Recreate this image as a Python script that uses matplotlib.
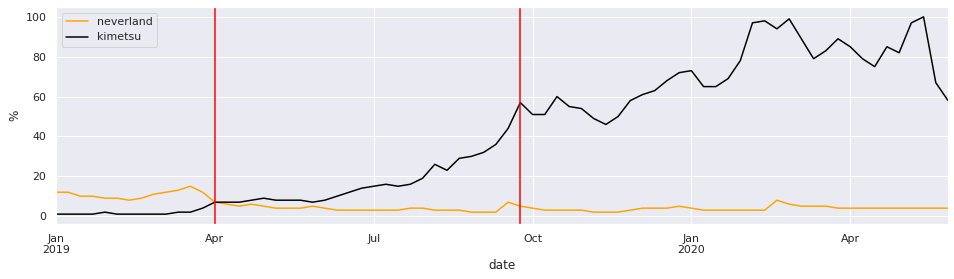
import matplotlib
matplotlib.use("Agg")
import matplotlib.pyplot as plt
import seaborn as sns
import pandas as pd

dates = pd.date_range("2019-01-06", periods=74, freq="W-SUN")

neverland = [12, 12, 10, 10, 9, 9, 8, 9, 11, 12, 13, 15, 12, 7, 6, 5, 6, 5, 4, 4,
             4, 5, 4, 3, 3, 3, 3, 3, 3, 4, 4, 3, 3, 3, 2, 2, 2, 7, 5, 4,
             3, 3, 3, 3, 2, 2, 2, 3, 4, 4, 4, 5, 4, 3, 3, 3, 3, 3, 3, 8,
             6, 5, 5, 5, 4, 4, 4, 4, 4, 4, 4, 4, 4, 4]
kimetsu = [1, 1, 1, 1, 2, 1, 1, 1, 1, 1, 2, 2, 4, 7, 7, 7, 8, 9, 8, 8,
           8, 7, 8, 10, 12, 14, 15, 16, 15, 16, 19, 26, 23, 29, 30, 32, 36, 44, 57, 51,
           51, 60, 55, 54, 49, 46, 50, 58, 61, 63, 68, 72, 73, 65, 65, 69, 78, 97, 98, 94,
           99, 89, 79, 83, 89, 85, 79, 75, 85, 82, 97, 100, 67, 58]

tick_dates = pd.to_datetime(["2019-01-06", "2019-04-07", "2019-07-07",
                             "2019-10-06", "2020-01-05", "2020-04-05"])
tick_labels = ["Jan\n2019", "Apr", "Jul", "Oct", "Jan\n2020", "Apr"]
event_dates = pd.to_datetime(["2019-04-07", "2019-09-29"])

sns.set_theme(style="darkgrid")
fig = plt.figure(figsize=(954 / 72, 279 / 72), dpi=72)
ax = fig.add_axes([56 / 954, 1 - 224 / 279, (948 - 56) / 954, (224 - 7) / 279])

ax.plot(dates, neverland, color="orange", label="neverland", lw=1.5)
ax.plot(dates, kimetsu, color="black", label="kimetsu", lw=1.5)
for d in event_dates:
    ax.axvline(d, color="red", lw=1.5)

ax.set_xlim(dates[0], dates[-1])
ax.set_xticks(tick_dates)
ax.set_xticklabels(tick_labels)
ax.set_yticks([0, 20, 40, 60, 80, 100])
ax.set_xlabel("date")
ax.set_ylabel("%")
ax.legend(loc="upper left")

fig.savefig("out.png", dpi=72)
